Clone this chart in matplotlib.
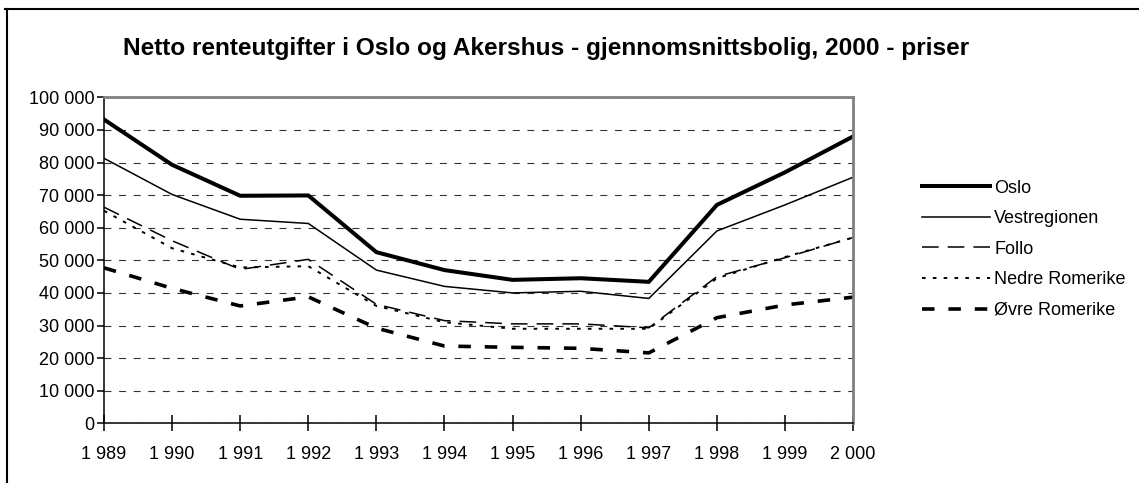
import matplotlib
matplotlib.use('Agg')
import matplotlib.pyplot as plt
from matplotlib.lines import Line2D
from matplotlib.ticker import FuncFormatter

plt.rcParams['font.family'] = ['Liberation Sans', 'DejaVu Sans']
plt.rcParams['lines.scale_dashes'] = False

years = [1989, 1990, 1991, 1992, 1993, 1994, 1995, 1996, 1997, 1998, 1999, 2000]

oslo = [93200, 79300, 69800, 69900, 52500, 47000, 44000, 44500, 43400, 67000, 77000, 88000]
vestregionen = [81300, 70200, 62600, 61300, 47000, 42000, 40000, 40500, 38300, 59000, 67000, 75500]
follo = [66300, 56000, 47200, 50300, 36500, 31500, 30500, 30500, 29300, 45000, 50800, 57000]
nedre_romerike = [65200, 53700, 47800, 48200, 36000, 31000, 29000, 29000, 29000, 44500, 51000, 57000]
ovre_romerike = [47700, 41400, 36000, 38800, 29200, 23700, 23300, 23000, 21600, 32400, 36300, 38700]

series = [
    ('Oslo', oslo, dict(lw=2.9, ls='-')),
    ('Vestregionen', vestregionen, dict(lw=1.1, ls='-')),
    ('Follo', follo, dict(lw=1.1, dashes=(12, 6.5))),
    ('Nedre Romerike', nedre_romerike, dict(lw=1.4, dashes=(2.6, 5.2))),
    ('Øvre Romerike', ovre_romerike, dict(lw=2.6, dashes=(9, 10))),
]

def space_thousands(v, pos=None):
    return f'{int(round(v)):,}'.replace(',', ' ')

fig = plt.figure(figsize=(11.39, 4.83), dpi=100)
ax = fig.add_axes([0.0913, 0.1236, 0.749 - 0.0913, 0.7985 - 0.1236])

for name, vals, style in series:
    ax.plot(years, vals, color='black', label=name, solid_joinstyle='miter', **style)

ax.set_xlim(1989, 2000)
ax.set_ylim(0, 100000)
ax.set_xticks(years)
ax.set_yticks(range(0, 100001, 10000))
ax.xaxis.set_major_formatter(FuncFormatter(space_thousands))
ax.yaxis.set_major_formatter(FuncFormatter(space_thousands))
ax.tick_params(axis='x', direction='inout', length=11, width=1.1, labelsize=13, pad=11)
ax.tick_params(axis='y', direction='out', length=5, width=1.1, labelsize=13, pad=2)

ax.yaxis.grid(True, color='#333333', lw=0.8, dashes=(5, 5.5))
ax.set_axisbelow(True)

ax.spines['top'].set_color('#808080')
ax.spines['right'].set_color('#808080')
ax.spines['top'].set_linewidth(2)
ax.spines['right'].set_linewidth(2)
ax.spines['left'].set_linewidth(1.1)
ax.spines['bottom'].set_linewidth(1.1)

fig.suptitle('Netto renteutgifter i Oslo og Akershus - gjennomsnittsbolig, 2000 - priser',
             x=0.479, y=0.924, fontsize=17.6, fontweight='bold')

leg = fig.legend(loc='upper left', bbox_to_anchor=(0.803, 0.643), frameon=False,
                 fontsize=13, handlelength=3.75, handletextpad=0.25,
                 labelspacing=0.75, borderaxespad=0)

fig.add_artist(Line2D([0.004, 1.0], [0.981, 0.981], color='black', lw=1.5,
                      transform=fig.transFigure))
fig.add_artist(Line2D([0.006, 0.006], [0.0, 0.981], color='black', lw=1.5,
                      transform=fig.transFigure))

fig.savefig('out.png', dpi=100)
